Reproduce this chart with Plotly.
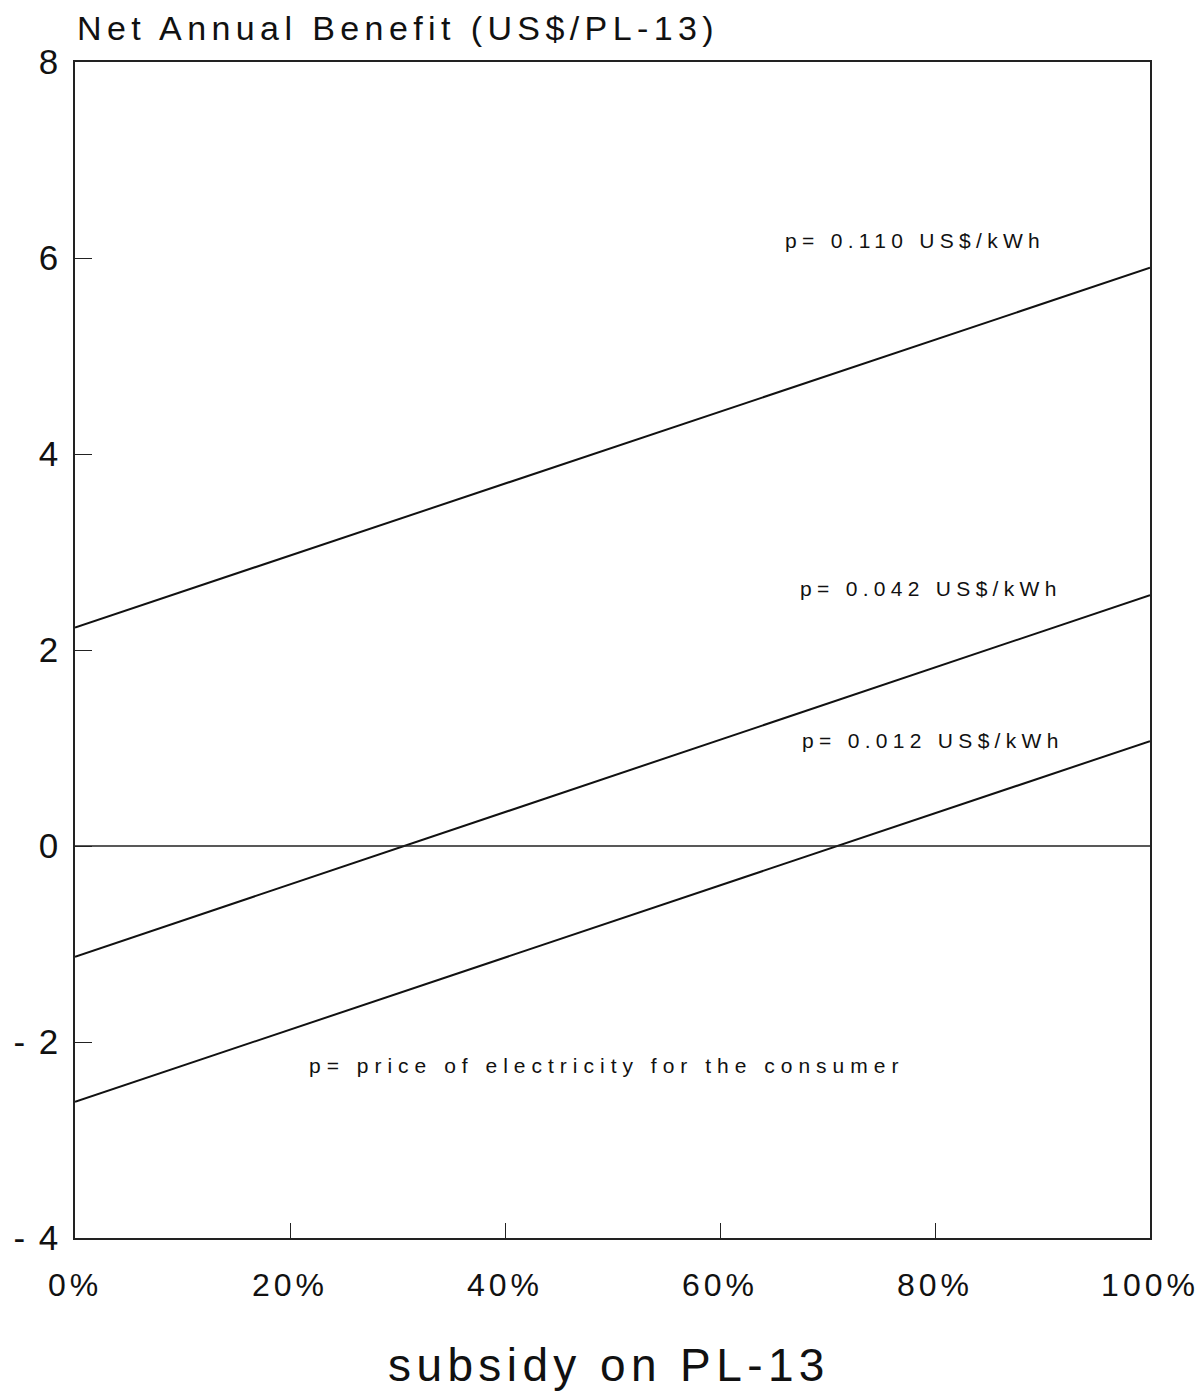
import plotly.graph_objects as go

# Net annual benefit of a PL-13 lamp versus the subsidy granted on it,
# for three consumer electricity prices.
subsidy_pct = [0, 100]
benefit_p0110 = [2.23, 5.90]
benefit_p0042 = [-1.13, 2.56]
benefit_p0012 = [-2.61, 1.07]

price_labels = ["p= 0.110 US$/kWh", "p= 0.042 US$/kWh", "p= 0.012 US$/kWh"]
label_pos = [(65.9, 6.18), (67.3, 2.63), (67.4, 1.08)]
note_text = "p= price of electricity for the consumer"
note_pos = (21.6, -2.24)

x_tickvals = [0, 20, 40, 60, 80, 100]
x_ticktext = ["0%", "20%", "40%", "60%", "80%", "100%"]
y_tickvals = [-4, -2, 0, 2, 4, 6, 8]
y_ticktext = ["- 4", "- 2", "0", "2", "4", "6", "8"]

FONT = "Liberation Sans, Arial, sans-serif"
INK = "#111111"


def spaced(s, px):
    return f'<span style="letter-spacing:{px}px">{s}</span>'


fig = go.Figure()
for ys in (benefit_p0110, benefit_p0042, benefit_p0012):
    fig.add_trace(go.Scatter(x=subsidy_pct, y=ys, mode="lines",
                             line=dict(color=INK, width=2),
                             showlegend=False, hoverinfo="skip"))

# zero reference line
fig.add_shape(type="line", xref="paper", yref="y", x0=0, x1=1, y0=0, y1=0,
              line=dict(color="#222222", width=1.5))

for txt, (lx, ly) in zip(price_labels, label_pos):
    fig.add_annotation(x=lx, y=ly, text=spaced(txt, 5.3), showarrow=False,
                       xanchor="left", yanchor="middle",
                       font=dict(family=FONT, size=21, color=INK))

fig.add_annotation(x=note_pos[0], y=note_pos[1], text=spaced(note_text, 6.0),
                   showarrow=False, xanchor="left", yanchor="middle",
                   font=dict(family=FONT, size=21, color=INK))

# chart title, top-left above the frame
fig.add_annotation(xref="paper", yref="paper", x=0.0, y=1.0, yshift=34,
                   text=spaced("Net Annual Benefit (US$/PL-13)", 5.4),
                   showarrow=False, xanchor="left", yanchor="middle",
                   font=dict(family=FONT, size=34, color=INK))

# x-axis title
fig.add_annotation(xref="paper", yref="paper", x=0.497, y=0, yshift=-127,
                   text=spaced("subsidy on PL-13", 5.4),
                   showarrow=False, xanchor="center", yanchor="middle",
                   font=dict(family=FONT, size=46, color=INK))

fig.update_xaxes(range=[0, 100], showline=True, mirror=True, linecolor="#222222",
                 linewidth=1.5, showgrid=False, zeroline=False, automargin=False,
                 ticks="inside", ticklen=15, tickwidth=1, tickcolor="#222222",
                 tickvals=x_tickvals,
                 ticktext=[spaced(t, 4) for t in x_ticktext],
                 ticklabelstandoff=18,
                 tickfont=dict(family=FONT, size=32, color=INK))
fig.update_yaxes(range=[-4, 8], showline=True, mirror=True, linecolor="#222222",
                 linewidth=1.5, showgrid=False, zeroline=False, automargin=False,
                 ticks="inside", ticklen=17, tickwidth=1, tickcolor="#222222",
                 tickvals=y_tickvals,
                 ticktext=[spaced(t, 2) for t in y_ticktext],
                 ticklabelstandoff=6,
                 tickfont=dict(family=FONT, size=35, color=INK))

fig.update_layout(width=1204, height=1391,
                  margin=dict(l=75, r=54, t=62, b=153),
                  paper_bgcolor="white", plot_bgcolor="white")

fig.write_html("out.html")
